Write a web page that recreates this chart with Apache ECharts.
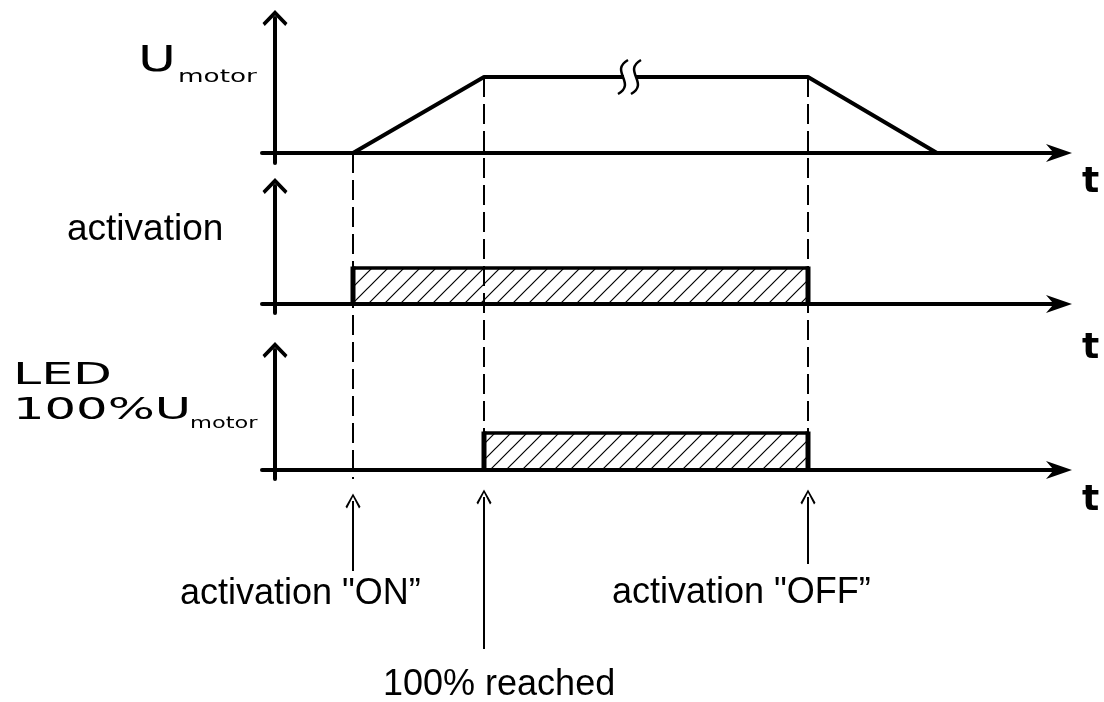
<!DOCTYPE html>
<html><head><meta charset="utf-8">
<script src="https://cdn.jsdelivr.net/npm/echarts@6/dist/echarts.min.js"></script>
<style>html,body{margin:0;padding:0;background:#fff}#c{width:1104px;height:702px}</style>
</head><body><div id="c"></div>
<script>
// ---------------- data ----------------
const eventNames = ['activation "ON\u201D', '100% reached', 'activation "OFF\u201D'];
const eventT = [7.8, 20.9, 53.3];          // time of events
const motorT = [7.8, 20.9, 53.3, 66.2];    // U_motor ramp points (time)
const motorU = [0, 1, 1, 0];               // U_motor relative level
const breakT = [35.5];                     // time-axis break mark
const activationSpan = [7.8, 53.3];        // activation on/off
const ledSpan = [20.9, 53.3];              // LED on/off
const highLevel = 1;
const rowLabels = ['activation', 'LED', '100%U', 'U', 'motor', 't'];

// ---------------- layout ----------------
const X_MIN = -1.3, X_MAX = 78.4;
const guideFrom = [153, 77, 77], guideTo = [479, 470, 470];
const arrowTail = [571, 649, 564], arrowTip = [494, 490, 490];

const xArrow = 'path://M34.5,0 L69,100 L34.5,70 L0,100 Z';
const yArrow = 'path://M50,0 L100,52 L91,64 L50,22 L9,64 L0,52 Z';
const smallArrow = 'path://M50,0 L100,88 L90,100 L50,22 L10,100 L0,88 Z';

// hatch pattern
const pc = document.createElement('canvas');
pc.width = 16; pc.height = 16;
const pctx = pc.getContext('2d');
pctx.strokeStyle = '#000'; pctx.lineWidth = 1.2;
pctx.beginPath();
pctx.moveTo(0, 16); pctx.lineTo(16, 0);
pctx.moveTo(-2, 2); pctx.lineTo(2, -2);
pctx.moveTo(14, 18); pctx.lineTo(18, 14);
pctx.stroke();
const hatch = {image: pc, repeat: 'repeat'};

function xAx(i, show) {
  return {type: 'value', gridIndex: i, min: X_MIN, max: X_MAX, show: true,
    axisLine: {show: show, onZero: true, symbol: ['none', xArrow], symbolSize: [18, 26],
      lineStyle: {color: '#000', width: 4}},
    axisTick: {show: false}, axisLabel: {show: false}, splitLine: {show: false}};
}
function yAx(i, min, max) {
  return {type: 'value', gridIndex: i, min: min, max: max,
    axisLine: {show: true, onZero: true, symbol: ['none', yArrow], symbolSize: [25, 16],
      lineStyle: {color: '#000', width: 4}},
    axisTick: {show: false}, axisLabel: {show: false}, splitLine: {show: false}};
}

function barRender(params, api) {
  const a = api.coord([api.value(0), 0]);
  const b = api.coord([api.value(1), api.value(2)]);
  const x1 = a[0], base = a[1], x2 = b[0], top = b[1];
  return {type: 'group', children: [
    {type: 'rect', shape: {x: x1, y: top, width: x2 - x1, height: base - top}, style: {fill: hatch}},
    {type: 'line', shape: {x1: x1, y1: top, x2: x2, y2: top}, style: {stroke: '#000', lineWidth: 3.5}},
    {type: 'line', shape: {x1: x1, y1: base, x2: x1, y2: top - 1.5}, style: {stroke: '#000', lineWidth: 5}},
    {type: 'line', shape: {x1: x2, y1: base, x2: x2, y2: top - 1.5}, style: {stroke: '#000', lineWidth: 5}}
  ]};
}

const chart = echarts.init(document.getElementById('c'), null, {renderer: 'canvas'});

const txt = (x, y, text, font, size, weight, sx) => ({
  type: 'text', x: x, y: y, scaleX: sx || 1, z: 100,
  style: {text: text, fontFamily: font, fontSize: size, fontWeight: weight || 'normal',
    fill: '#000', align: 'left', verticalAlign: 'middle'}
});

chart.setOption({
  animation: false,
  backgroundColor: '#fff',
  grid: [
    {left: 262, width: 797, top: 18, height: 145},
    {left: 262, width: 797, top: 186, height: 127},
    {left: 262, width: 797, top: 350, height: 129},
    {left: 262, width: 797, top: 0, height: 702}
  ],
  xAxis: [xAx(0, true), xAx(1, true), xAx(2, true),
    {type: 'value', gridIndex: 3, min: X_MIN, max: X_MAX, show: false}],
  yAxis: [yAx(0, -0.1316, 1.776), yAx(1, -0.25, 3.278), yAx(2, -0.243, 3.243),
    {type: 'value', gridIndex: 3, min: 0, max: 702, inverse: true, show: false}],
  series: [
    {type: 'line', xAxisIndex: 0, yAxisIndex: 0, symbol: 'none', clip: false,
      data: motorT.map((t, i) => [t, motorU[i]]),
      lineStyle: {color: '#000', width: 4}, z: 5},
    {type: 'custom', xAxisIndex: 0, yAxisIndex: 0, data: breakT.map(t => [t, highLevel]), z: 6,
      renderItem: function (params, api) {
        const p = api.coord([api.value(0), api.value(1)]);
        const x = p[0], y = p[1];
        const s = cx => ({type: 'bezierCurve',
          shape: {x1: cx - 5, y1: y + 17, cpx1: cx + 14, cpy1: y + 6, cpx2: cx - 14, cpy2: y - 6, x2: cx + 5, y2: y - 17},
          style: {stroke: '#000', lineWidth: 2.5, fill: null}});
        return {type: 'group', children: [
          {type: 'rect', shape: {x: x - 6, y: y - 4, width: 12, height: 8}, style: {fill: '#fff'}},
          s(x - 7), s(x + 6)]};
      }},
    {type: 'custom', xAxisIndex: 1, yAxisIndex: 1, z: 3,
      data: [[activationSpan[0], activationSpan[1], highLevel]], renderItem: barRender},
    {type: 'custom', xAxisIndex: 2, yAxisIndex: 2, z: 3,
      data: [[ledSpan[0], ledSpan[1], highLevel]], renderItem: barRender},
    {type: 'custom', xAxisIndex: 3, yAxisIndex: 3, z: 4,
      data: eventT.map((t, i) => [t, guideFrom[i], guideTo[i]]),
      renderItem: function (params, api) {
        const a = api.coord([api.value(0), api.value(1)]);
        const b = api.coord([api.value(0), api.value(2)]);
        return {type: 'line', shape: {x1: a[0], y1: a[1], x2: b[0], y2: b[1]},
          style: {stroke: '#000', lineWidth: 2, lineDash: [20, 7]}};
      }},
    {type: 'lines', coordinateSystem: 'cartesian2d', xAxisIndex: 3, yAxisIndex: 3, z: 4,
      symbol: ['none', smallArrow], symbolSize: [11, 15],
      lineStyle: {color: '#000', width: 2, opacity: 1},
      data: eventT.map((t, i) => ({coords: [[t, arrowTail[i]], [t, arrowTip[i] + 7]]}))}
  ],
  graphic: [
    txt(138, 62, rowLabels[3], 'DejaVu Sans', 35, 'normal', 1.48),
    txt(178, 77, rowLabels[4], 'DejaVu Sans', 18, 'normal', 1.46),
    txt(67, 230, rowLabels[0], 'Liberation Sans', 37),
    txt(13, 376, rowLabels[1], 'DejaVu Sans', 31, 'normal', 1.63),
    txt(13, 411, rowLabels[2], 'DejaVu Sans', 31, 'normal', 1.6),
    txt(190, 424, rowLabels[4], 'DejaVu Sans', 15, 'normal', 1.5),
    txt(1082, 182.5, rowLabels[5], 'DejaVu Sans', 36, 'bold'),
    txt(1082, 348.5, rowLabels[5], 'DejaVu Sans', 36, 'bold'),
    txt(1082, 500.5, rowLabels[5], 'DejaVu Sans', 36, 'bold'),
    txt(180, 594, eventNames[0], 'Liberation Sans', 36),
    txt(383, 685, eventNames[1], 'Liberation Sans', 36),
    txt(612, 593, eventNames[2], 'Liberation Sans', 36)
  ]
});
</script></body></html>
